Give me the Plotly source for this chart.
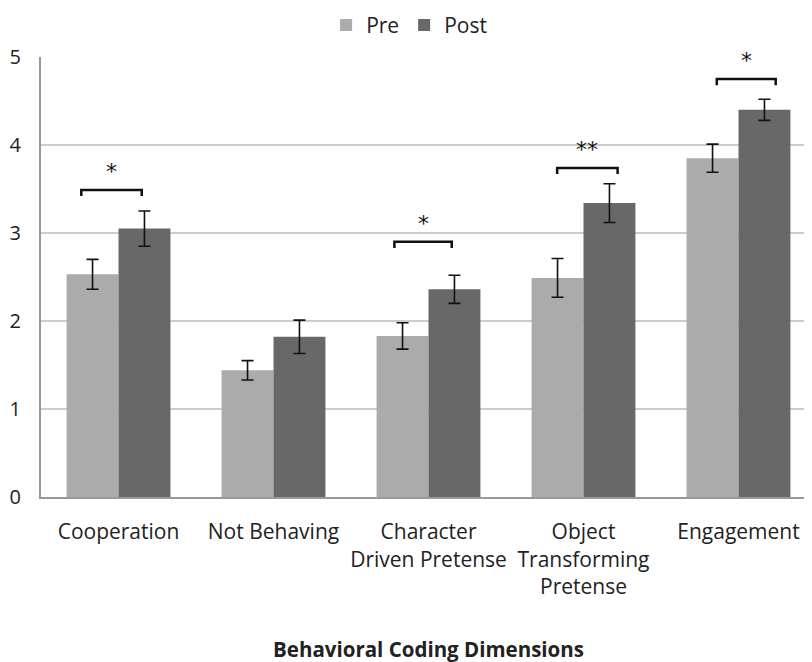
import plotly.graph_objects as go

categories = ["Cooperation", "Not Behaving", "Character<br>Driven Pretense",
              "Object<br>Transforming<br>Pretense", "Engagement"]
pre_vals = [2.53, 1.44, 1.83, 2.49, 3.85]
pre_err = [0.17, 0.11, 0.15, 0.22, 0.16]
post_vals = [3.05, 1.82, 2.36, 3.34, 4.40]
post_err = [0.20, 0.19, 0.16, 0.22, 0.12]

# significance brackets: (category index, left offset, right offset, bracket height, label)
sig_idx = [0, 2, 3, 4]
sig_left = [-0.24, -0.22, -0.17, -0.14]
sig_right = [0.15, 0.15, 0.22, 0.24]
sig_height = [3.49, 2.90, 3.74, 4.75]
sig_label = ["*", "*", "**", "*"]

xs = list(range(len(categories)))

fig = go.Figure()
fig.add_trace(go.Bar(
    name="Pre", x=xs, y=pre_vals, marker_color="#ababab", marker_line_width=0,
    error_y=dict(type="data", array=pre_err, color="#111111", thickness=1.6, width=6),
))
fig.add_trace(go.Bar(
    name="Post", x=xs, y=post_vals, marker_color="#686868", marker_line_width=0,
    error_y=dict(type="data", array=post_err, color="#111111", thickness=1.6, width=6),
))

for i, l, r, h, lab in zip(sig_idx, sig_left, sig_right, sig_height, sig_label):
    x0, x1 = i + l, i + r
    fig.add_shape(type="path",
                  path=f"M {x0} {h-0.07} L {x0} {h} L {x1} {h} L {x1} {h-0.07}",
                  xref="x", yref="y", line=dict(color="#111111", width=2.5))
    fig.add_annotation(x=(x0 + x1) / 2, y=h + 0.04, text=lab, showarrow=False,
                       xref="x", yref="y", yanchor="bottom",
                       font=dict(size=22, color="#111111", family="DejaVu Sans"))

fig.update_layout(
    width=812, height=662,
    paper_bgcolor="white", plot_bgcolor="white",
    margin=dict(l=33, r=4, t=49, b=173, autoexpand=False),
    barmode="group", bargap=0.33, bargroupgap=0,
    font=dict(family="Open Sans", size=21, color="#222222"),
    legend=dict(orientation="h", x=0.494, xref="container", xanchor="center",
                y=1.072, yref="paper", yanchor="middle", font=dict(size=21),
                itemwidth=30, traceorder="normal"),
    xaxis=dict(range=[-0.5, 4.5], tickvals=xs, ticktext=categories,
               showline=True, linecolor="#999999", linewidth=2,
               showgrid=False, ticks="", ticklabelstandoff=15,
               tickfont=dict(size=21),
               title=dict(text="<b>Behavioral Coding Dimensions</b>", standoff=44,
                          font=dict(size=20.5))),
    yaxis=dict(range=[0, 5], dtick=1, showline=True, linecolor="#999999", linewidth=2,
               gridcolor="#cccccc", gridwidth=1.5, ticks="", ticklabelstandoff=14,
               tickfont=dict(size=20), zeroline=False),
)

fig.write_html("out.html")
